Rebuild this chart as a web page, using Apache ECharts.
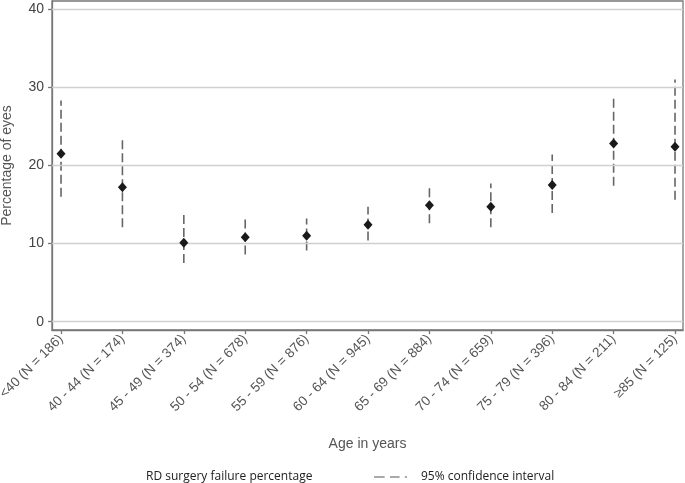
<!DOCTYPE html>
<html>
<head>
<meta charset="utf-8">
<script src="https://cdn.jsdelivr.net/npm/echarts@6/dist/echarts.min.js"></script>
<style>
html, body { margin: 0; padding: 0; background: #fff; }
#box { width: 685px; height: 483px; }
</style>
</head>
<body>
<div id="box"></div>
<script>
var ageGroups = ['<40 (N = 186)', '40 - 44 (N = 174)', '45 - 49 (N = 374)', '50 - 54 (N = 678)',
	'55 - 59 (N = 876)', '60 - 64 (N = 945)', '65 - 69 (N = 884)', '70 - 74 (N = 659)',
	'75 - 79 (N = 396)', '80 - 84 (N = 211)', '\u226585 (N = 125)'];
var failRate = [21.5, 17.2, 10.1, 10.8, 11.0, 12.4, 14.9, 14.7, 17.5, 22.8, 22.4];
var ciLow = [16.0, 12.1, 7.5, 8.6, 9.1, 10.4, 12.6, 12.1, 13.9, 17.4, 15.6];
var ciHigh = [28.3, 23.7, 13.8, 13.4, 13.2, 14.7, 17.5, 17.7, 21.4, 29.0, 31.0];
var yTicks = [0, 10, 20, 30, 40];
var xTicks = [0, 1, 2, 3, 4, 5, 6, 7, 8, 9, 10];

var font = '"Liberation Sans", Arial, sans-serif';
var myChart = echarts.init(document.getElementById('box'));

var points = [];
var bars = [];
for (var i = 0; i < ageGroups.length; i++) {
	points.push([i, failRate[i]]);
	bars.push([i, ciLow[i], ciHigh[i]]);
}

var option = {
	animation: false,
	grid: {
		left: 52,
		right: 2,
		top: 1,
		bottom: 153,
		containLabel: false,
		outerBoundsMode: 'none',
		show: true,
		borderColor: '#777',
		borderWidth: 1.3
	},
	xAxis: {
		type: 'value',
		min: -0.147,
		max: 10.13,
		name: 'Age in years',
		nameLocation: 'middle',
		nameGap: 107,
		nameTextStyle: { color: '#555', fontSize: 14, fontFamily: font },
		splitLine: { show: false },
		axisLine: { show: true, onZero: false, lineStyle: { color: '#777', width: 1.3 } },
		axisTick: { show: true, length: 4, customValues: xTicks, lineStyle: { color: '#777', width: 1.3 } },
		axisLabel: {
			customValues: xTicks,
			rotate: 45,
			margin: 7,
			color: '#555',
			fontSize: 13.5,
			fontFamily: font,
			formatter: function (v) { return ageGroups[Math.round(v)]; }
		}
	},
	yAxis: {
		type: 'value',
		min: -1.06,
		max: 41.05,
		name: 'Percentage of eyes',
		nameLocation: 'middle',
		nameGap: 38,
		nameTextStyle: { color: '#555', fontSize: 14, fontFamily: font },
		axisLine: { show: true, onZero: false, lineStyle: { color: '#777', width: 1.3 } },
		axisTick: { show: true, length: 4, customValues: yTicks, lineStyle: { color: '#777', width: 1.3 } },
		axisLabel: { customValues: yTicks, margin: 8, color: '#444', fontSize: 14, fontFamily: font },
		splitLine: { show: false }
	},
	legend: [{
		left: 135,
		top: 466,
		itemWidth: 1,
		itemHeight: 1,
		textStyle: { color: '#222', fontSize: 12, fontFamily: '"Open Sans", sans-serif' },
		data: [{ name: 'RD surgery failure percentage', icon: 'rect', itemStyle: { opacity: 0 } }]
	}, {
		left: 369,
		top: 466,
		itemWidth: 33,
		itemHeight: 1.5,
		textStyle: { color: '#222', fontSize: 12, fontFamily: '"Open Sans", sans-serif', padding: [0, 0, 0, 9] },
		data: [{ name: '95% confidence interval', icon: 'path://M0,0h10v1h-10z M15,0h9v1h-9z M29,0h2v1h-2z', itemStyle: { color: '#555' } }]
	}],
	series: [{
		type: 'line',
		silent: true,
		data: [],
		markLine: {
			silent: true,
			symbol: 'none',
			label: { show: false },
			lineStyle: { color: '#d0d0d0', width: 1.3, type: 'solid' },
			data: yTicks.map(function (t) { return { yAxis: t }; })
		}
	}, {
		name: '95% confidence interval',
		type: 'custom',
		data: bars,
		z: 3,
		renderItem: function (params, api) {
			var lo = api.coord([api.value(0), api.value(1)]);
			var hi = api.coord([api.value(0), api.value(2)]);
			return {
				type: 'line',
				shape: { x1: lo[0], y1: lo[1], x2: hi[0], y2: hi[1] },
				style: { stroke: '#666', lineWidth: 1.6, lineDash: [9, 4] }
			};
		}
	}, {
		name: 'RD surgery failure percentage',
		type: 'scatter',
		data: points,
		z: 5,
		symbol: 'diamond',
		symbolSize: [9, 10],
		itemStyle: { color: '#1a1a1a', opacity: 1 }
	}]
};

myChart.setOption(option);
</script>
</body>
</html>
